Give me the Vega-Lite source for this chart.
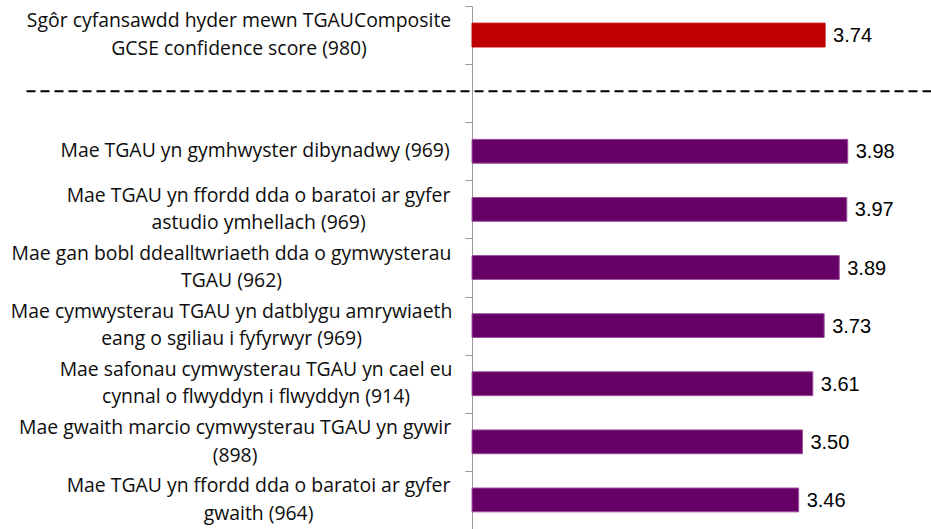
{
  "$schema": "https://vega.github.io/schema/vega-lite/v6.json",
  "width": 905,
  "height": 523,
  "autosize": {"type": "none"},
  "padding": {"left": 26, "top": 6, "right": 0, "bottom": 0},
  "background": "white",
  "config": {"view": {"stroke": null}},
  "data": {
    "values": [
      {"label": "Sgôr cyfansawdd hyder mewn TGAUComposite\nGCSE confidence score (980)", "value": 3.74, "group": "composite"},
      {"label": "Mae TGAU yn gymhwyster dibynadwy (969)", "value": 3.98, "group": "item"},
      {"label": "Mae TGAU yn ffordd dda o baratoi ar gyfer\nastudio ymhellach (969)", "value": 3.97, "group": "item"},
      {"label": "Mae gan bobl ddealltwriaeth dda o gymwysterau\nTGAU (962)", "value": 3.89, "group": "item"},
      {"label": "Mae cymwysterau TGAU yn datblygu amrywiaeth\neang o sgiliau i fyfyrwyr (969)", "value": 3.73, "group": "item"},
      {"label": "Mae safonau cymwysterau TGAU yn cael eu\ncynnal o flwyddyn i flwyddyn (914)", "value": 3.61, "group": "item"},
      {"label": "Mae gwaith marcio cymwysterau TGAU yn gywir\n(898)", "value": 3.50, "group": "item"},
      {"label": "Mae TGAU yn ffordd dda o baratoi ar gyfer\ngwaith (964)", "value": 3.46, "group": "item"}
    ]
  },
  "encoding": {
    "x": {
      "field": "value",
      "type": "quantitative",
      "scale": {"domain": [-4.725, 4.862], "nice": false},
      "axis": {
        "orient": "top",
        "offset": -84.7,
        "title": null,
        "labels": false,
        "ticks": false,
        "grid": false,
        "domain": true,
        "domainColor": "#000000",
        "domainWidth": 2,
        "domainDash": [9, 5],
        "domainCap": "butt"
      }
    },
    "y": {
      "field": "label",
      "type": "nominal",
      "sort": null,
      "scale": {
        "domain": [
          "Sgôr cyfansawdd hyder mewn TGAUComposite\nGCSE confidence score (980)",
          " ",
          "Mae TGAU yn gymhwyster dibynadwy (969)",
          "Mae TGAU yn ffordd dda o baratoi ar gyfer\nastudio ymhellach (969)",
          "Mae gan bobl ddealltwriaeth dda o gymwysterau\nTGAU (962)",
          "Mae cymwysterau TGAU yn datblygu amrywiaeth\neang o sgiliau i fyfyrwyr (969)",
          "Mae safonau cymwysterau TGAU yn cael eu\ncynnal o flwyddyn i flwyddyn (914)",
          "Mae gwaith marcio cymwysterau TGAU yn gywir\n(898)",
          "Mae TGAU yn ffordd dda o baratoi ar gyfer\ngwaith (964)"
        ],
        "paddingInner": 0.59,
        "paddingOuter": 0.295
      },
      "axis": {
        "orient": "left",
        "offset": -446,
        "title": null,
        "labels": false,
        "domainColor": "#9a9a9a",
        "tickColor": "#9a9a9a",
        "tickSize": 7,
        "tickOffset": -29.05
      }
    }
  },
  "layer": [
    {
      "mark": {"type": "bar", "strokeWidth": 1},
      "encoding": {
        "color": {
          "field": "group",
          "type": "nominal",
          "scale": {"domain": ["composite", "item"], "range": ["#C00000", "#660066"]},
          "legend": null
        },
        "stroke": {
          "field": "group",
          "type": "nominal",
          "scale": {"domain": ["composite", "item"], "range": ["#C00000", "#9B4F9B"]},
          "legend": null
        }
      }
    },
    {
      "mark": {
        "type": "text",
        "align": "left",
        "baseline": "middle",
        "dx": 8,
        "dy": 1,
        "font": "Liberation Sans",
        "fontSize": 20,
        "color": "#000000"
      },
      "encoding": {
        "text": {"field": "value", "type": "quantitative", "format": ".2f"}
      }
    },
    {
      "mark": {
        "type": "text",
        "align": "center",
        "baseline": "middle",
        "font": "Open Sans",
        "fontSize": 19.4,
        "lineHeight": 27.5,
        "lineBreak": "\n",
        "color": "#0d0d0d",
        "dx": {"expr": "indexof(datum.label,'Sgôr')>=0 ? -233 : indexof(datum.label,'dibynadwy')>=0 ? -217 : indexof(datum.label,'ffordd')>=0 ? -213.5 : indexof(datum.label,'bobl')>=0 ? -240.5 : indexof(datum.label,'datblygu')>=0 ? -240.5 : indexof(datum.label,'safonau')>=0 ? -216 : indexof(datum.label,'marcio')>=0 ? -237 : -220"},
        "dy": {"expr": "indexof(datum.label,'\\n')>=0 ? -13.75 : 0"}
      },
      "encoding": {
        "x": {"datum": 0, "type": "quantitative"},
        "text": {"field": "label", "type": "nominal"}
      }
    }
  ]
}
